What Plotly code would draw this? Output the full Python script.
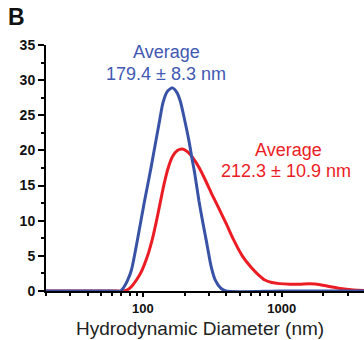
import math
import plotly.graph_objects as go

# Hydrodynamic diameter (nm) and intensity (%)
blue_d = [20, 60, 69, 72.6, 77, 82.5, 92, 102, 108, 115, 123, 132, 139.5, 150, 163,
          175, 186, 200, 214, 227, 236, 253, 270, 286, 311, 333, 364, 396, 1000, 3925]
blue_v = [0, 0, 0, 0.5, 1.4, 2.95, 7.65, 12.5, 15.0, 17.8, 21.0, 24.3, 26.8, 28.4, 28.9,
          28.3, 27.0, 24.3, 21.5, 18.6, 16.8, 12.9, 9.8, 7.2, 3.4, 1.5, 0.4, 0, 0, 0]

red_d = [20, 60, 73, 78, 84, 90, 96, 103, 110, 117, 125, 133, 142, 152, 163, 177, 193,
         210, 230, 255, 280, 310, 350, 400, 450, 520, 600, 680, 750, 850, 960, 1150,
         1350, 1600, 1900, 2250, 2650, 3300, 3925]
red_v = [0, 0, 0, 0.2, 0.8, 1.6, 2.5, 3.9, 5.5, 7.4, 9.9, 12.5, 15.2, 17.5, 19.1, 20.0, 20.2,
         19.8, 18.9, 17.5, 15.9, 14.0, 11.9, 9.5, 7.3, 5.0, 3.4, 2.3, 1.6, 1.2, 1.05, 0.97,
         0.97, 1.03, 0.9, 0.6, 0.35, 0.15, 0.08]

blue_label = ["Average", "179.4 ± 8.3 nm"]
red_label = ["Average", "212.3 ± 10.9 nm"]
x_title = "Hydrodynamic Diameter (nm)"
panel = "B"

BLUE = "#3853a6"
RED = "#ec1c24"
BLUE_TXT = "#4159b2"
FONT = "Arial, Liberation Sans, sans-serif"

fig = go.Figure()
fig.add_trace(go.Scatter(x=red_d, y=red_v, mode="lines",
                         line=dict(color=RED, width=3, shape="spline", smoothing=0.7),
                         showlegend=False, hoverinfo="skip"))
fig.add_trace(go.Scatter(x=blue_d, y=blue_v, mode="lines",
                         line=dict(color=BLUE, width=3, shape="spline", smoothing=0.7),
                         showlegend=False, hoverinfo="skip"))

fig.update_layout(
    width=364, height=340,
    margin=dict(l=46, r=0, t=45, b=49),
    paper_bgcolor="white", plot_bgcolor="white",
    font=dict(family=FONT, color="#222"),
    xaxis=dict(type="log", range=[math.log10(20), math.log10(3925)],
               showline=True, linecolor="black", linewidth=2,
               ticks="outside", ticklen=4, tickwidth=2, tickcolor="black",
               tickvals=[100, 1000], ticktext=["100", "1000"],
               tickfont=dict(size=13, weight="bold", color="#111"),
               minor=dict(ticks="outside", ticklen=3, tickwidth=1.5, tickcolor="black",
                          dtick="D1", showgrid=False),
               showgrid=False, zeroline=False),
    yaxis=dict(range=[0, 35], showline=True, linecolor="black", linewidth=2,
               ticks="outside", ticklen=6, tickwidth=2, tickcolor="black",
               tickvals=[0, 5, 10, 15, 20, 25, 30, 35],
               tickfont=dict(size=14, weight="bold", color="#111"),
               minor=dict(ticks="outside", ticklen=3, tickwidth=1.5, tickcolor="black",
                          dtick=2.5, showgrid=False),
               showgrid=False, zeroline=False),
)

def px(xp):
    return (xp - 46) / 318.0

def py(yp):
    return (291 - yp) / 246.0

anns = [
    (panel, 16.7, 16.7, 23, "bold", "#111"),
    (blue_label[0], 166.5, 52, 18, "normal", BLUE_TXT),
    (blue_label[1], 165.5, 74, 18, "normal", BLUE_TXT),
    (red_label[0], 288.5, 150, 18, "normal", RED),
    (red_label[1], 285.8, 171, 18, "normal", RED),
    (x_title, 200.4, 328.0, 19, "normal", "#222"),
]
for text, x, y, size, weight, color in anns:
    fig.add_annotation(text=text, xref="paper", yref="paper", x=px(x), y=py(y),
                       xanchor="center", yanchor="middle", showarrow=False,
                       font=dict(size=size, weight=weight, color=color, family=FONT))

fig.write_html("out.html", config={"displayModeBar": False},
               post_script="document.body.style.margin='0';document.body.style.overflow='hidden';")
